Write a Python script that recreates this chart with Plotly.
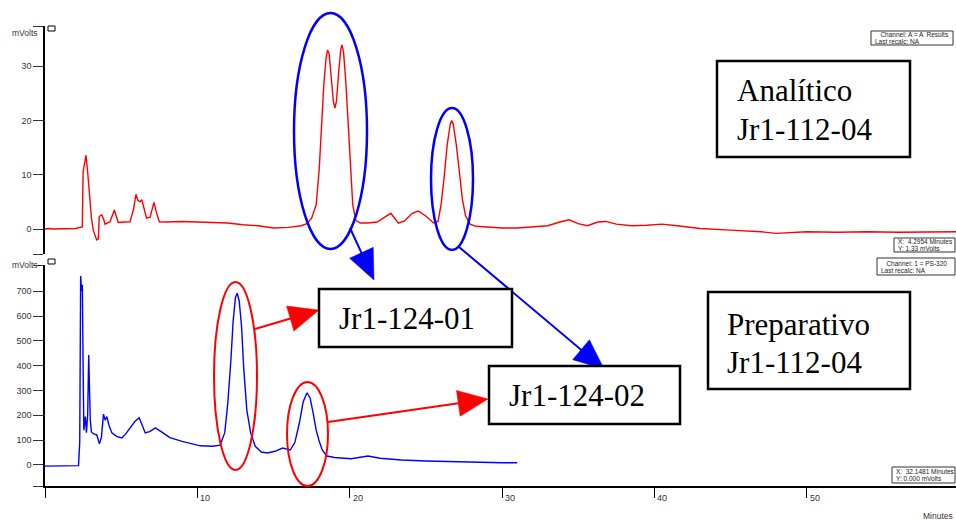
import math
import plotly.graph_objects as go

# ---------------- data ----------------
top_time = [0, 0.3, 0.5, 0.7, 1.0, 2.0, 2.3, 2.45, 2.5, 2.6, 2.69, 2.8, 2.95, 3.05, 3.17, 3.39, 3.5, 3.56,
            3.72, 3.85, 3.94, 4.27, 4.55, 4.81, 5.2, 5.58, 5.8, 5.97, 6.1, 6.23, 6.35, 6.5, 6.67, 6.9, 7.15,
            7.3, 7.5, 7.98, 9.0, 10.0, 11.0, 12.0, 13.0, 14.0, 15.0, 16.0, 16.8, 17.2, 17.5, 17.8, 18.0,
            18.15, 18.3, 18.45, 18.55, 18.65, 18.8, 18.93, 19.03, 19.13, 19.28, 19.42, 19.5, 19.6, 19.75,
            19.9, 20.05, 20.2, 20.4, 20.7, 21.2, 21.8, 22.3, 22.7, 23.2, 23.6, 24.1, 24.5, 25.0, 25.5, 25.8,
            26.0, 26.2, 26.4, 26.6, 26.7, 26.8, 27.0, 27.2, 27.4, 27.6, 27.9, 28.3, 29.0, 30.0, 31.0, 32.0,
            33.0, 33.8, 34.4, 35.0, 35.6, 36.3, 36.8, 37.5, 38.5, 39.5, 40.5, 41.5, 43.0, 45.0, 47.0, 48.0,
            50.0, 52.0, 54.0, 56.0, 58.0, 59.8]
top_mv = [0, 0.1, 0, 0, 0, 0.1, 0.3, 0.4, 10.5, 12.5, 13.6, 10.5, 5.3, 2.0, -0.2, -2.0, -1.8, 2.3,
          2.6, 1.8, 0.9, 1.35, 3.5, 1.2, 1.3, 1.35, 3.5, 6.4, 5.3, 5.0, 5.4, 4.0, 2.0, 2.2, 4.9,
          3.2, 1.35, 1.3, 1.4, 1.3, 1.2, 1.1, 0.8, 0.6, 0.2, 0.3, 0.6, 1.0, 2.0, 4.5, 11.0,
          19.0, 26.5, 31.5, 33.0, 32.3, 28.0, 23.5, 22.3, 23.5, 29.0, 33.2, 33.9, 32.5, 27.0,
          19.0, 10.5, 4.5, 1.6, 1.1, 1.1, 1.3, 2.2, 2.9, 1.1, 1.5, 2.9, 3.3, 2.4, 1.1, 1.4,
          4.5, 9.5, 15.5, 19.3, 20.0, 19.3, 15.5, 10.5, 5.5, 2.5, 0.9, 0.5, 0.4, 0.2, 0.2, 0.4,
          0.6, 1.3, 1.7, 1.0, 0.6, 1.3, 1.4, 0.9, 0.6, 0.7, 0.9, 0.6, 0.1, -0.2, -0.5, -0.8,
          -0.5, -0.6, -0.5, -0.6, -0.5, -0.5]

bot_time = [0, 1.0, 2.0, 2.2, 2.28, 2.34, 2.4, 2.45, 2.5, 2.55, 2.6, 2.65, 2.72, 2.8, 2.87, 2.92, 2.97,
            3.05, 3.2, 3.4, 3.57, 3.7, 3.84, 3.95, 4.06, 4.2, 4.39, 4.7, 5.05, 5.3, 5.6, 5.9, 6.18, 6.4,
            6.58, 6.9, 7.24, 7.6, 8.2, 9.0, 10.2, 11.0, 11.5, 11.8, 12.0, 12.2, 12.35, 12.5, 12.62, 12.75,
            12.9, 13.05, 13.25, 13.5, 13.8, 14.2, 14.6, 15.1, 15.6, 16.1, 16.4, 16.7, 16.95, 17.2, 17.4, 17.6,
            17.8, 18.0, 18.2, 18.5, 19.0, 20.1, 21.2, 22.0, 23.4, 25.0, 26.7, 28.5, 30.0, 31.0]
bot_mv = [-5, -5, -5, -3, 90, 762, 700, 726, 400, 140, 170, 195, 130, 200, 443, 310, 180,
          133, 125, 121, 85, 110, 205, 180, 195, 160, 129, 115, 109, 125, 150, 175, 190, 155,
          129, 135, 149, 135, 110, 95, 77, 75, 80, 130, 250, 420, 580, 675, 692, 660,
          560, 383, 220, 129, 75, 52, 48, 55, 68, 60, 90, 170, 255, 291, 270, 210,
          140, 95, 60, 36, 30, 25, 36, 27, 20, 16, 13, 11, 9, 9]

x_ticks = [0, 10, 20, 30, 40, 50]
x_tick_labels = ["", "10", "20", "30", "40", "50"]
top_y_ticks = [-4.6, 0, 10, 20, 30, 37.4]
top_y_labels = ["", "0", "10", "20", "30", ""]
bot_y_ticks = [-85, 0, 100, 200, 300, 400, 500, 600, 700, 806]
bot_y_labels = ["", "0", "100", "200", "300", "400", "500", "600", "700", ""]

# ---------------- layout helpers ----------------
W, H = 956, 521


def px(x):
    return x / W


def py(y):
    return 1 - y / H


fig = go.Figure()
fig.add_trace(go.Scatter(x=top_time, y=top_mv, mode="lines", xaxis="x", yaxis="y",
                         line=dict(color="#ff0000", width=1.4), hoverinfo="skip"))
fig.add_trace(go.Scatter(x=bot_time, y=bot_mv, mode="lines", xaxis="x2", yaxis="y2",
                         line=dict(color="#0000ff", width=1.4), hoverinfo="skip"))

xdom = [px(45), 1.0]
tickfont = dict(family="Liberation Sans, Arial", size=9, color="#333333")

fig.update_layout(
    width=W, height=H, margin=dict(l=0, r=0, t=0, b=0),
    paper_bgcolor="white", plot_bgcolor="white", showlegend=False,
    xaxis=dict(domain=xdom, range=[0, 59.8], anchor="y", visible=False),
    xaxis2=dict(domain=xdom, range=[0, 59.8], anchor="y2", showgrid=False, zeroline=False,
                showline=True, linecolor="black", linewidth=1.5,
                ticks="outside", ticklen=10, tickwidth=1, tickcolor="black",
                tickvals=x_ticks, showticklabels=False),
    yaxis=dict(domain=[py(254), py(26)], range=[-4.6, 37.4], anchor="x", showgrid=False,
               zeroline=False, showline=True, linecolor="black", linewidth=1.5,
               ticks="outside", ticklen=10, tickwidth=1, tickcolor="#333333",
               tickvals=top_y_ticks, ticktext=top_y_labels, tickfont=tickfont),
    yaxis2=dict(domain=[py(486), py(265)], range=[-85, 806], anchor="x2", showgrid=False,
                zeroline=False, showline=True, linecolor="black", linewidth=1.5,
                ticks="outside", ticklen=10, tickwidth=1, tickcolor="#333333",
                tickvals=bot_y_ticks, ticktext=bot_y_labels, tickfont=tickfont),
)

annotations = []
shapes = []

# x tick labels placed to the right of each tick
for v, lab in zip(x_ticks, x_tick_labels):
    if lab:
        annotations.append(dict(x=v, xref="x2", y=py(491), yref="paper", text=lab, showarrow=False,
                                xanchor="left", yanchor="top", xshift=1, font=tickfont))

small = dict(family="Liberation Sans, Arial", size=8.5, color="#333333")
annotations += [
    dict(x=px(25), y=py(33), xref="paper", yref="paper", text="mVolts", showarrow=False,
         xanchor="center", yanchor="middle", font=small),
    dict(x=px(25), y=py(265), xref="paper", yref="paper", text="mVolts", showarrow=False,
         xanchor="center", yanchor="middle", font=small),
    dict(x=px(955), y=py(509), xref="paper", yref="paper", text="Minutes", showarrow=False,
         xanchor="right", yanchor="top", font=small),
]

# small squares
for yy in (26, 259):
    shapes.append(dict(type="rect", xref="paper", yref="paper", x0=px(48), x1=px(55),
                       y0=py(yy), y1=py(yy + 5), line=dict(color="black", width=1), fillcolor="white"))

# small info boxes
info_font = dict(family="Liberation Sans, Arial", size=6.5, color="#222222")
info_boxes = [
    (871, 953, 31, 45, ["&nbsp;&nbsp;&nbsp;Channel: A = A  Results", "Last recalc: NA"]),
    (894, 955, 238, 252, ["X:  4.2954 Minutes", "Y: 1.33 mVolts"]),
    (877, 955, 258, 275, ["&nbsp;&nbsp;&nbsp;Channel: 1 = PS-320", "Last recalc: NA"]),
    (892, 955, 467, 483, ["X:  32.1481 Minutes", "Y: 0.000 mVolts"]),
]
for x0, x1, y0, y1, lines in info_boxes:
    shapes.append(dict(type="rect", xref="paper", yref="paper", x0=px(x0), x1=px(x1), y0=py(y0), y1=py(y1),
                       line=dict(color="#333333", width=1), fillcolor="white"))
    mid = (y0 + y1) / 2
    annotations.append(dict(x=px(x0 + 2), y=py(mid - 3.5), xref="paper", yref="paper", text=lines[0],
                            showarrow=False, xanchor="left", yanchor="middle", font=info_font))
    annotations.append(dict(x=px(x0 + 2), y=py(mid + 3.5), xref="paper", yref="paper", text=lines[1],
                            showarrow=False, xanchor="left", yanchor="middle", font=info_font))

# ellipses
ellipses = [
    (294, 367, 13, 249, "#0000ff", 2.5),
    (431, 473, 108, 250, "#0000ff", 2.5),
    (214, 257, 282, 470, "#ff0000", 2),
    (287, 328, 382, 486, "#ff0000", 2),
]
for x0, x1, y0, y1, c, w in ellipses:
    shapes.append(dict(type="circle", xref="paper", yref="paper", x0=px(x0), x1=px(x1),
                       y0=py(y1), y1=py(y0), line=dict(color=c, width=w)))


def arrow(sx, sy, tx, ty, color, hl=30, hw=13, lw=2):
    dx, dy = tx - sx, ty - sy
    n = math.hypot(dx, dy)
    ux, uy = dx / n, dy / n
    bx, by = tx - hl * ux, ty - hl * uy
    nx, ny = -uy, ux
    shapes.append(dict(type="line", xref="paper", yref="paper", x0=px(sx), y0=py(sy), x1=px(bx + 2 * ux),
                       y1=py(by + 2 * uy), line=dict(color=color, width=lw)))
    pts = [(tx, ty), (bx + hw * nx, by + hw * ny), (bx - hw * nx, by - hw * ny)]
    path = "M " + " L ".join(f"{px(a):.5f},{py(b):.5f}" for a, b in pts) + " Z"
    shapes.append(dict(type="path", xref="paper", yref="paper", path=path, fillcolor=color,
                       line=dict(color=color, width=0.5)))


arrow(350, 228, 374, 280, "#0000ff")
arrow(459, 247, 604, 369, "#0000ff")
arrow(255, 329, 319, 310, "#ff0000")
arrow(328, 422, 488, 399, "#ff0000")

# text boxes
big = dict(family="Liberation Serif, Times New Roman", size=31, color="black")
boxes = [
    (717, 910, 61, 157, 735, ["Analítico", "Jr1-112-04"], [91, 129]),
    (708, 910, 292, 389, 725, ["Preparativo", "Jr1-112-04"], [324, 362]),
    (319, 512, 289, 347, 337, ["Jr1-124-01"], [318]),
    (489, 680, 366, 424, 507, ["Jr1-124-02"], [395]),
]
for x0, x1, y0, y1, tx, lines, ys in boxes:
    shapes.append(dict(type="rect", xref="paper", yref="paper", x0=px(x0), x1=px(x1), y0=py(y1), y1=py(y0),
                       line=dict(color="black", width=2.5), fillcolor="white"))
    for t, yy in zip(lines, ys):
        annotations.append(dict(x=px(tx), y=py(yy), xref="paper", yref="paper", text=t, showarrow=False,
                                xanchor="left", yanchor="middle", font=big))

fig.update_layout(shapes=shapes, annotations=annotations)
fig.write_html("out.html", config={"displayModeBar": False},
               post_script="document.body.style.margin='0';document.body.style.padding='0';")
